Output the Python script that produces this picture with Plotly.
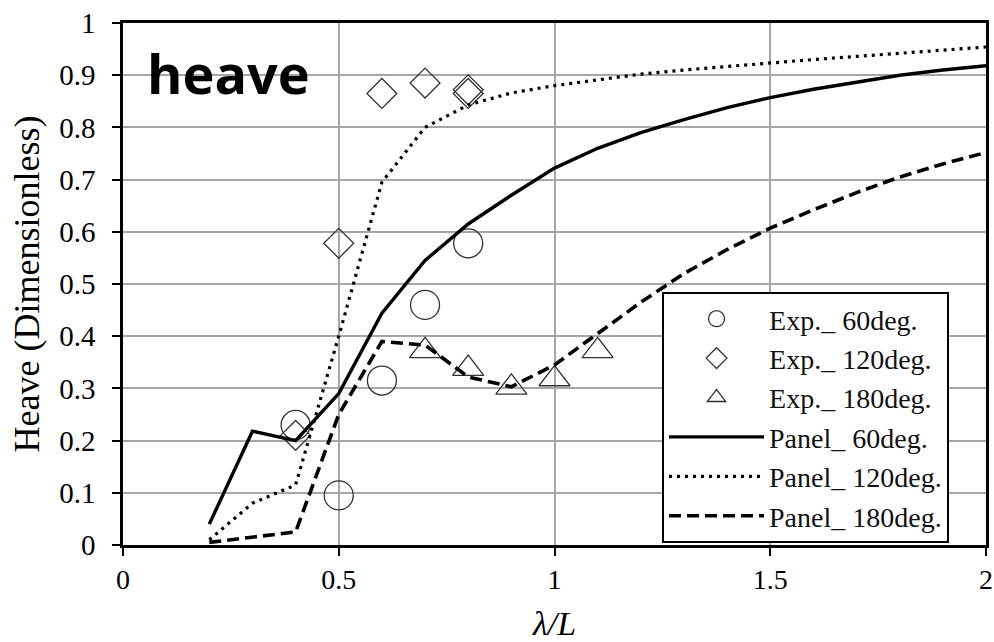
import plotly.graph_objects as go

# Wavelength ratio λ/L for the panel-method curves
panel_x = [0.2, 0.3, 0.4, 0.5, 0.6, 0.7, 0.8, 0.9, 1.0, 1.1, 1.2, 1.3, 1.4,
           1.5, 1.6, 1.7, 1.8, 1.9, 2.0]
panel_60 = [0.04, 0.218, 0.200, 0.29, 0.444, 0.545, 0.615, 0.670, 0.722, 0.760,
            0.790, 0.815, 0.838, 0.857, 0.873, 0.887, 0.900, 0.910, 0.918]
panel_120 = [0.01, 0.08, 0.115, 0.40, 0.695, 0.800, 0.843, 0.866, 0.880, 0.891,
             0.902, 0.910, 0.917, 0.923, 0.930, 0.936, 0.942, 0.948, 0.954]
panel_180 = [0.005, 0.015, 0.025, 0.25, 0.390, 0.383, 0.322, 0.303, 0.345, 0.405,
             0.465, 0.520, 0.566, 0.607, 0.642, 0.675, 0.705, 0.730, 0.752]

# Experimental measurements
exp60_x = [0.4, 0.5, 0.6, 0.7, 0.8]
exp60_y = [0.230, 0.095, 0.315, 0.460, 0.578]
exp120_x = [0.4, 0.5, 0.6, 0.7, 0.8, 0.8]
exp120_y = [0.210, 0.578, 0.865, 0.885, 0.872, 0.865]
exp180_x = [0.7, 0.8, 0.9, 1.0, 1.1]
exp180_y = [0.372, 0.338, 0.302, 0.318, 0.372]

x_ticks = [0, 0.5, 1, 1.5, 2]
x_tick_text = ["0", "0.5", "1", "1.5", "2"]
y_ticks = [0, 0.1, 0.2, 0.3, 0.4, 0.5, 0.6, 0.7, 0.8, 0.9, 1]
y_tick_text = ["0", "0.1", "0.2", "0.3", "0.4", "0.5", "0.6", "0.7", "0.8", "0.9", "1"]

SERIF = "Liberation Serif"
MARK_COL = "#333333"

fig = go.Figure()

fig.add_trace(go.Scatter(
    x=exp60_x, y=exp60_y, mode="markers", name="Exp._ 60deg.",
    legendgroup="a",
    marker=dict(symbol="circle-open", size=29, color=MARK_COL, line=dict(width=1.3, color=MARK_COL)),
))
fig.add_trace(go.Scatter(
    x=exp120_x, y=exp120_y, mode="markers", name="Exp._ 120deg.",
    legendgroup="b",
    marker=dict(symbol="diamond-open", size=23, color=MARK_COL, line=dict(width=1.3, color=MARK_COL)),
))
fig.add_trace(go.Scatter(
    x=exp180_x, y=exp180_y, mode="markers", name="Exp._ 180deg.",
    legendgroup="c",
    marker=dict(symbol="triangle-up-open", size=27, color=MARK_COL, line=dict(width=1.3, color=MARK_COL)),
))
fig.add_trace(go.Scatter(
    x=panel_x, y=panel_60, mode="lines", name="Panel_ 60deg.",
    legendgroup="d",
    line=dict(color="black", width=3.4),
))
fig.add_trace(go.Scatter(
    x=panel_x, y=panel_120, mode="lines", name="Panel_ 120deg.",
    legendgroup="e",
    line=dict(color="black", width=3.2, dash="3px,5px"),
))
fig.add_trace(go.Scatter(
    x=panel_x, y=panel_180, mode="lines", name="Panel_ 180deg.",
    legendgroup="f",
    line=dict(color="black", width=3.6, dash="12px,6px"),
))

fig.add_annotation(
    text="<b>heave</b>", xref="paper", yref="paper", x=0.026, y=0.905,
    xanchor="left", yanchor="middle", showarrow=False,
    font=dict(family="Open Sans", size=54, color="black"),
)

fig.update_layout(
    width=994, height=642,
    margin=dict(l=123, r=8, t=23, b=97),
    paper_bgcolor="white", plot_bgcolor="white",
    font=dict(family=SERIF, color="black", size=28),
    showlegend=True,
    legend=dict(
        x=0.6246, y=0.4847, xanchor="left", yanchor="top",
        bgcolor="white", bordercolor="black", borderwidth=2,
        font=dict(family=SERIF, size=28, color="#111"),
        tracegroupgap=0, itemwidth=95,
        traceorder="normal",
    ),
    xaxis=dict(
        range=[0, 2], tickvals=x_ticks, ticktext=x_tick_text,
        showgrid=True, gridcolor="#a6a6a6", gridwidth=1.5,
        showline=True, linecolor="black", linewidth=2.5, mirror=True,
        ticks="outside", ticklen=8, tickcolor="black", tickwidth=1.5,
        tickfont=dict(family=SERIF, size=28),
        zeroline=False, automargin=False,
        title=dict(text="<i>λ/L</i>", font=dict(family=SERIF, size=34), standoff=18),
    ),
    yaxis=dict(
        range=[0, 1], tickvals=y_ticks, ticktext=y_tick_text,
        showgrid=True, gridcolor="#a6a6a6", gridwidth=1.5,
        showline=True, linecolor="black", linewidth=2.5, mirror=True,
        ticks="outside", ticklen=8, tickcolor="black", tickwidth=1.5,
        tickfont=dict(family=SERIF, size=29), ticklabelstandoff=11,
        zeroline=False, automargin=False,
        title=dict(text="Heave (Dimensionless)", font=dict(family=SERIF, size=36), standoff=9),
    ),
)

fig.write_html("out.html")
